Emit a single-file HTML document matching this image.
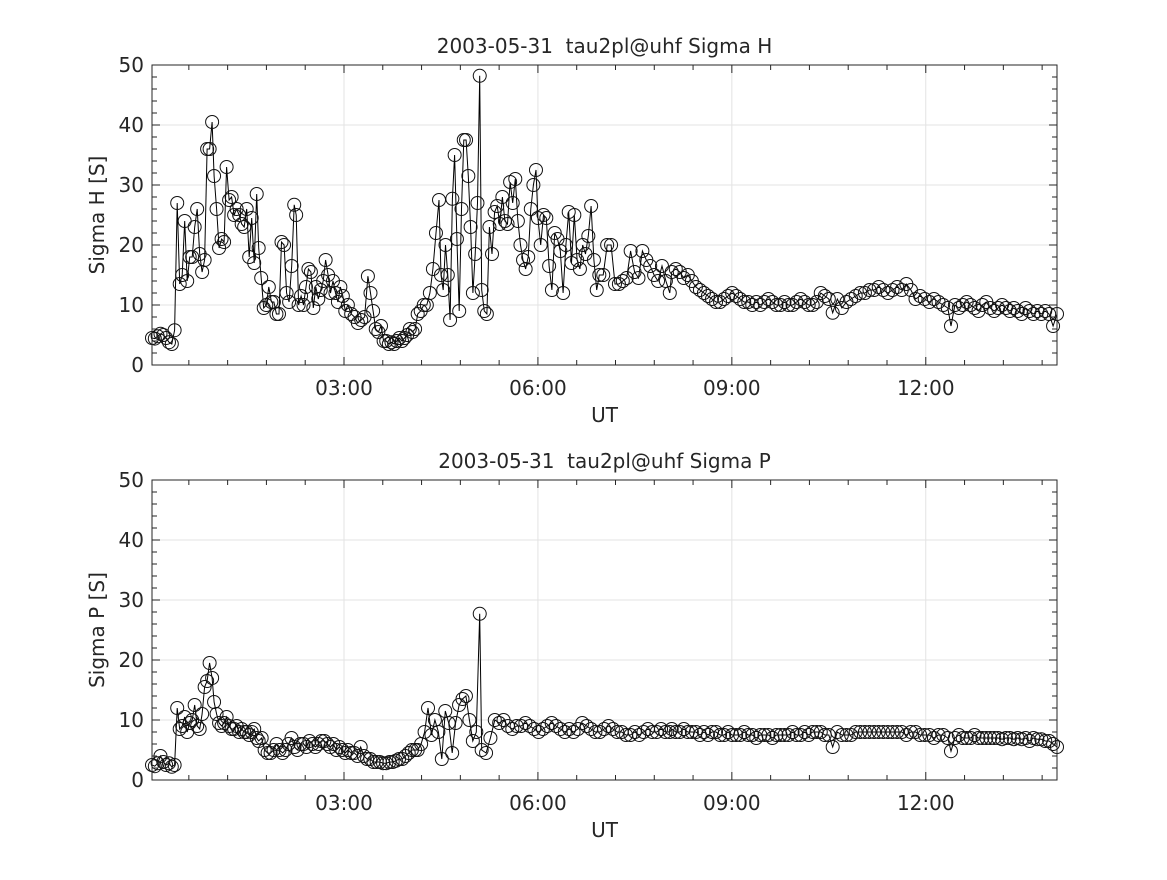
<!DOCTYPE html>
<html><head><meta charset="utf-8">
<style>
body{margin:0;background:#fff;}
svg text{font-family:"DejaVu Sans","Liberation Sans",sans-serif;fill:#262626;white-space:pre;}
</style></head>
<body>
<svg id="chart" width="1167" height="875" xmlns="http://www.w3.org/2000/svg"></svg>
<script>
// Data: segments of readings, [startHour, endHour, values...]
const topSegStarts = [0.03,0.42,0.99,1.68,2.26,3.06,3.41,4.14,4.50,5.13,6.00,6.95,8.07,10.56,12.39];
const topSegEnds   = [0.38,0.96,1.65,2.23,3.02,3.37,4.10,4.47,5.10,5.97,6.91,8.04,10.50,12.34,14.03];
const topSegValues = [
 [4.5,4.4,4.8,5.2,5,4.5,3.8,3.5,5.8],
 [27,13.5,15,24,14,18,18,23,26,18.5,15.5,17.5,36,36,40.5],
 [31.5,26,19.5,21,20.5,33,27.5,28,25,26,25,23.5,23,26,18,24.5,17,28.5],
 [19.5,14.5,9.5,10,13,10.5,10.5,8.5,8.5,20.5,20,12,10.5,16.5,26.7],
 [25,10,11.5,10,13,16,15.5,9.5,13,11,12.5,14,17.5,15,12,14,12,10.5,13,11.5,9],
 [10,8.5,8,7,7.5,8,14.8],
 [12,9,6,5.5,6.5,4,4,3.5,3.8,3.5,4,4.5,4,4.5,5,6,5.5,6],
 [8.5,9,10,10,12,16,22,27.5],
 [15,12.5,20,15,7.5,27.7,35,21,9,26,37.5,37.5,31.5,23,12,18.5,27,48.2],
 [12.5,9,8.5,23,18.5,25.5,26.5,23.5,28,24,23.5,30.5,27,31,24,20,17.5,16,18,26,30,32.5],
 [24.5,20,25,24.5,16.5,12.5,22,21,19,12,20,25.5,17,25,17.5,16,20,18.5,21.5,26.5,17.5,12.5],
 [15,15,20,20,13.5,13.5,14,14.5,19,15.5,14.5,19,17.5,16.5,15,14,16.5,14,12],
 [15.5,16,15.5,14.5,15,14,13,12.5,12,11.5,11,10.5,10.5,11,11.5,12,11.5,11,10.5,10.5,10,10.5,10,10.5,11,10.5,10,10,10.5,10,10,10.5,11,10.5,10,10,10.5,12,11.5,11],
 [8.7,11,9.5,10.5,11,11.5,12,12,12.5,12.5,13,12.5,12,12.5,13,12.5,13.5,12.5,11,11.5,11,10.5,11,10.5,10,9.5],
 [6.5,10,9.5,10,10.5,10,9.5,9,10,10.5,9.5,9,9.5,10,9.5,9,9.5,9,8.5,9.5,9,8.5,9,8.5,9,8.5,6.5,8.5]
];
const botSegStarts = [0.03,0.42,0.99,1.68,3.06,4.14,5.13,8.07,10.56,12.39];
const botSegEnds   = [0.38,0.96,1.65,3.02,4.10,5.10,8.04,10.50,12.34,14.03];
const botSegValues = [
 [2.5,2.3,2.8,4,3,2.5,2.8,2.2,2.5],
 [12,8.5,9,10.5,8,9.5,10,12.5,9,8.5,11,15.5,16.5,19.5,17],
 [13,11,9.5,9,9.5,10.5,9,8.5,8.5,9,8,8.5,8,8,7.5,8,8.5,7],
 [6.5,7,5,4.5,4.5,5,6,5,4.5,5,6,7,5.5,5,6,6,5.5,6.5,6,5.5,6,6.5,6.5,6,5.5,6,5,5.5,5,4.5],
 [5,4.5,4.5,4,5.5,4,3.5,3.5,3,3,3,2.8,2.8,3,3,3.2,3.5,3.5,4,4.5,5,5],
 [5,6,8,12,7.5,10,8,3.5,11.5,9.5,4.5,9.5,12.5,13.5,14,10,6.5,8,27.7],
 [5,4.5,7,10,9.5,10,9,8.5,9,9,9.5,9,8.5,8,8.5,9,9.5,9,8.5,8,8.5,8,8.5,9.5,9,8.5,8,8,8.5,9,8.5,8,8,7.5,7.5,8,7.5,8,8.5,8,8,8.5,8,8],
 [8.5,8,8,8.5,8,8,8,7.5,8,7.5,8,8,7.5,7.5,8,7.5,7.5,7.5,8,7.5,7.5,7,7.5,7.5,7.5,7,7.5,7.5,7.5,7.5,8,7.5,7.5,8,7.5,8,8,8,7.5,7.5],
 [5.5,8,7.5,7.5,7.5,8,8,8,8,8,8,8,8,8,8,8,7.5,8,8,7.5,7.5,7.5,7,7.5,7.5,7],
 [4.8,7,7.5,7,7,7,7.5,7,7,7,7,7,7,6.8,7,7,6.8,7,6.8,7,6.5,7,6.8,6.8,6.5,6.5,6,5.5]
];
const yTicks = [0,10,20,30,40,50];
const xTickHours = [3,6,9,12];
const xTickLabels = ["03:00","06:00","09:00","12:00"];
const titles = ["2003-05-31  tau2pl@uhf Sigma H","2003-05-31  tau2pl@uhf Sigma P"];
const yTitles = ["Sigma H [S]","Sigma P [S]"];

const NS="http://www.w3.org/2000/svg";
const svg=document.getElementById('chart');
const X0=152,X1=1057,T0=0.03,T1=14.03;
const xs=t=>X0+(t-T0)/(T1-T0)*(X1-X0);
function mk(tag,attrs,parent){const e=document.createElementNS(NS,tag);for(const k in attrs)e.setAttribute(k,attrs[k]);(parent||svg).appendChild(e);return e;}

function panel(idx,top,bottom,starts,ends,vals){
  const ys=v=>bottom-v/50*(bottom-top);
  const g=mk('g',{});
  
  
  yTicks.forEach(v=>{const l=mk('line',{x1:X0,x2:X1,y1:ys(v),y2:ys(v),stroke:'#e3e3e3','stroke-width':1},g);
    });
  xTickHours.forEach(h=>{const l=mk('line',{x1:xs(h),x2:xs(h),y1:top,y2:bottom,stroke:'#e3e3e3','stroke-width':1},g);
    });
  const pts=[];
  starts.forEach((s,i)=>{const v=vals[i];const n=v.length;v.forEach((y,j)=>{const t=n>1?s+(ends[i]-s)*j/(n-1):s;pts.push([xs(t),ys(y)]);});});
  const line=mk('polyline',{points:pts.map(p=>p[0].toFixed(1)+','+p[1].toFixed(1)).join(' '),fill:'none',stroke:'#000','stroke-width':1},g);
  
  pts.forEach(p=>{const c=mk('circle',{cx:p[0],cy:p[1],r:6.5,fill:'none',stroke:'#111','stroke-width':1},g);
    });
  const box=mk('rect',{x:X0,y:top,width:X1-X0,height:bottom-top,fill:'none',stroke:'#262626','stroke-width':1},g);
  
  for(let v=0;v<=50;v+=2){const major=v%10===0;const L=major?8:5;
    mk('line',{x1:X0,x2:X0+L,y1:ys(v),y2:ys(v),stroke:'#262626'},g);
    mk('line',{x1:X1,x2:X1-L,y1:ys(v),y2:ys(v),stroke:'#262626'},g);}
  for(let h=0.6;h<14.03;h+=0.6){const major=Math.abs(h/3-Math.round(h/3))<0.01;const L=major?8:5;
    mk('line',{x1:xs(h),x2:xs(h),y1:bottom,y2:bottom-L,stroke:'#262626'},g);
    mk('line',{x1:xs(h),x2:xs(h),y1:top,y2:top+L,stroke:'#262626'},g);}
  yTicks.forEach(v=>{const t=mk('text',{x:X0-8,y:ys(v)+7,'text-anchor':'end','font-size':20},g);t.textContent=v;
    });
  xTickHours.forEach((h,i)=>{const t=mk('text',{x:xs(h),y:bottom+30,'text-anchor':'middle','font-size':20},g);t.textContent=xTickLabels[i];
    });
  const tt=mk('text',{x:(X0+X1)/2,y:top-12,'text-anchor':'middle','font-size':20},g);tt.textContent=titles[idx];
  
  const xl=mk('text',{x:(X0+X1)/2,y:bottom+57,'text-anchor':'middle','font-size':20},g);xl.textContent='UT';
  
  const yc=(top+bottom)/2;
  const yl=mk('text',{x:104,y:yc,'text-anchor':'middle','font-size':20,transform:'rotate(-90 104 '+yc+')'},g);yl.textContent=yTitles[idx];
  
}
panel(0,65,365,topSegStarts,topSegEnds,topSegValues);
panel(1,480,780,botSegStarts,botSegEnds,botSegValues);
</script>
</body></html>
